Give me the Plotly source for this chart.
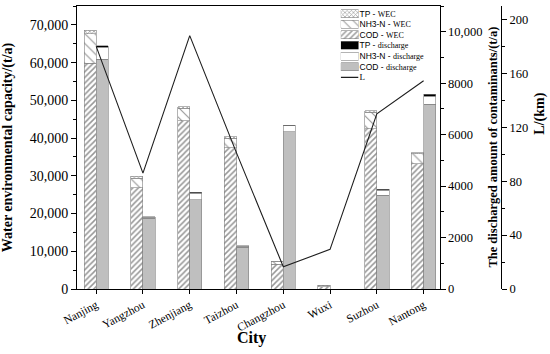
import plotly.graph_objects as go

# ---------------- data ----------------
cities = ["Nanjing", "Yangzhou", "Zhenjiang", "Taizhou", "Changzhou", "Wuxi", "Suzhou", "Nantong"]

# water environmental capacity (WEC), t/a  (left axis)
cod_wec = [59800, 26900, 44600, 37400, 6600, 600, 42450, 33200]
nh3_wec = [7900, 2500, 3300, 2600, 600, 200, 4400, 2600]
tp_wec = [900, 450, 400, 400, 200, 250, 400, 300]

# discharged amount, t/a  (middle axis)
cod_dis = [8940, 2750, 3460, 1620, 6110, 0, 3650, 7190]
nh3_dis = [450, 40, 270, 50, 240, 0, 195, 310]
tp_dis = [70, 10, 35, 15, 20, 0, 30, 70]

# river length L, km  (right axis)
L_km = [180, 86, 188, 101, 16.5, 29.4, 130, 154.5]

y2_ticks = [0, 2000, 4000, 6000, 8000, 10000]
y2_ticktext = ["0", "2000", "4000", "6000", "8000", "10,000"]

# custom legend rows
SER = "font-family:'Liberation Serif';font-size:8px"
leg_keys = ["r0", "r1", "r2", "r3", "r4", "r5", "r6"]
leg_text = [
    f"TP - <span style=\"{SER}\">WEC</span>",
    f"NH3-N - <span style=\"{SER}\">WEC</span>",
    f"COD - <span style=\"{SER}\">WEC</span>",
    f"TP - <span style=\"{SER}\">discharge</span>",
    f"NH3-N - <span style=\"{SER}\">discharge</span>",
    f"COD - <span style=\"{SER}\">discharge</span>",
    f"<span style=\"{SER};font-size:9px\">L</span>",
]
leg_swatch = [1, 1, 1, 1, 1, 1]

# ---------------- styles ----------------
HATCH = "#2e2e2e"
EDGE = dict(color="#808080", width=0.6)
GREY = "#bfbfbf"

fig = go.Figure()


def wec(vals, shape, size, solidity):
    return go.Bar(
        x=cities, y=vals, yaxis="y", xaxis="x", offset=-0.26, width=0.26,
        marker=dict(color="white", line=EDGE,
                    pattern=dict(shape=shape, size=size, solidity=solidity,
                                 fgcolor=HATCH, bgcolor="white")),
        showlegend=False, hoverinfo="skip")


fig.add_trace(wec(cod_wec, "/", 4, 0.38))
fig.add_trace(wec(nh3_wec, "\\", 7, 0.16))
fig.add_trace(wec(tp_wec, "x", 3, 0.4))


def dis(vals, color):
    return go.Bar(
        x=cities, y=vals, yaxis="y2", xaxis="x", offset=0, width=0.26,
        marker=dict(color=color, line=EDGE),
        showlegend=False, hoverinfo="skip")


fig.add_trace(dis(cod_dis, GREY))
fig.add_trace(dis(nh3_dis, "white"))
fig.add_trace(dis(tp_dis, "black"))

fig.add_trace(go.Scatter(x=cities, y=L_km, yaxis="y3", xaxis="x", mode="lines",
                         line=dict(color="#1e1e1e", width=1.1), showlegend=False))

# legend swatches (drawn as a tiny bar chart in its own subplot)
fig.add_trace(go.Bar(
    x=leg_swatch, y=leg_keys[:6], orientation="h", xaxis="x2", yaxis="y4", width=0.75,
    marker=dict(color=["white", "white", "white", "black", "white", GREY],
                line=EDGE,
                pattern=dict(shape=["x", "\\", "/", "", "", ""],
                             size=[3, 7, 4, 4, 4, 4],
                             solidity=[0.4, 0.16, 0.38, 0.3, 0.3, 0.3],
                             fgcolor=HATCH)),
    showlegend=False, hoverinfo="skip"))
fig.add_trace(go.Scatter(x=[0, 1], y=[leg_keys[6], leg_keys[6]], xaxis="x2", yaxis="y4",
                         mode="lines", line=dict(color="#1e1e1e", width=1.1),
                         showlegend=False, hoverinfo="skip"))

axis_common = dict(showgrid=False, zeroline=False, showline=True, linecolor="black",
                   linewidth=1, ticks="outside", tickcolor="black", ticklen=5)

fig.update_layout(
    width=550, height=354,
    margin=dict(l=67, r=49, t=5, b=65),
    paper_bgcolor="white", plot_bgcolor="rgba(0,0,0,0)",
    barmode="stack", showlegend=False,
    font=dict(family="Liberation Serif", size=12, color="black"),
    xaxis=dict(axis_common, domain=[0, 0.855], range=[-0.41, 7.34], mirror=True,
               ticklen=4, tickangle=-28, tickfont=dict(size=11.5)),
    yaxis=dict(axis_common, range=[0, 75000], dtick=10000, tickformat=",",
               tickfont=dict(size=14),
               minor=dict(ticks="outside", ticklen=3, dtick=5000, tickcolor="black"),
               title=dict(text="<b>Water environmental capacity/(t/a)</b>", font=dict(size=14))),
    yaxis2=dict(axis_common, overlaying="y", anchor="x", side="right", range=[0, 11000],
                tickmode="array", tickvals=y2_ticks, ticktext=y2_ticktext,
                tickfont=dict(size=12.5),
                minor=dict(ticks="outside", ticklen=3, dtick=1000, tickcolor="black")),
    yaxis3=dict(axis_common, overlaying="y", anchor="free", position=1.0, side="right",
                range=[0, 210], dtick=40, tickfont=dict(size=12.5),
                minor=dict(ticks="outside", ticklen=3, dtick=20, tickcolor="black")),
    xaxis2=dict(domain=[0.622, 0.664], anchor="y4", range=[0, 1], visible=False,
                fixedrange=True),
    yaxis4=dict(domain=[0.735, 0.992], anchor="x2", side="right", showgrid=False,
                zeroline=False, showline=False, ticks="",
                type="category", categoryorder="array", categoryarray=leg_keys,
                tickmode="array", tickvals=leg_keys, ticktext=leg_text,
                autorange="reversed",
                tickfont=dict(family="Liberation Sans", size=8.5, color="black")),
    annotations=[
        dict(text="<b>City</b>", xref="paper", yref="paper", x=0.412, y=-0.172,
             xanchor="center", yanchor="middle", showarrow=False, font=dict(size=16)),
        dict(text="<b>The discharged amount of contaminants/(t/a)</b>", xref="paper",
             yref="paper", x=0.979, y=0.5, textangle=-90, xanchor="center",
             yanchor="middle", showarrow=False, font=dict(size=12.5)),
        dict(text="<b>L/(km)</b>", xref="paper", yref="paper", x=1.09, y=0.62,
             textangle=-90, xanchor="center", yanchor="middle", showarrow=False,
             font=dict(size=14)),
    ],
)

fig.write_html("out.html", config={"displayModeBar": False},
               post_script="document.body.style.margin='0px';")
